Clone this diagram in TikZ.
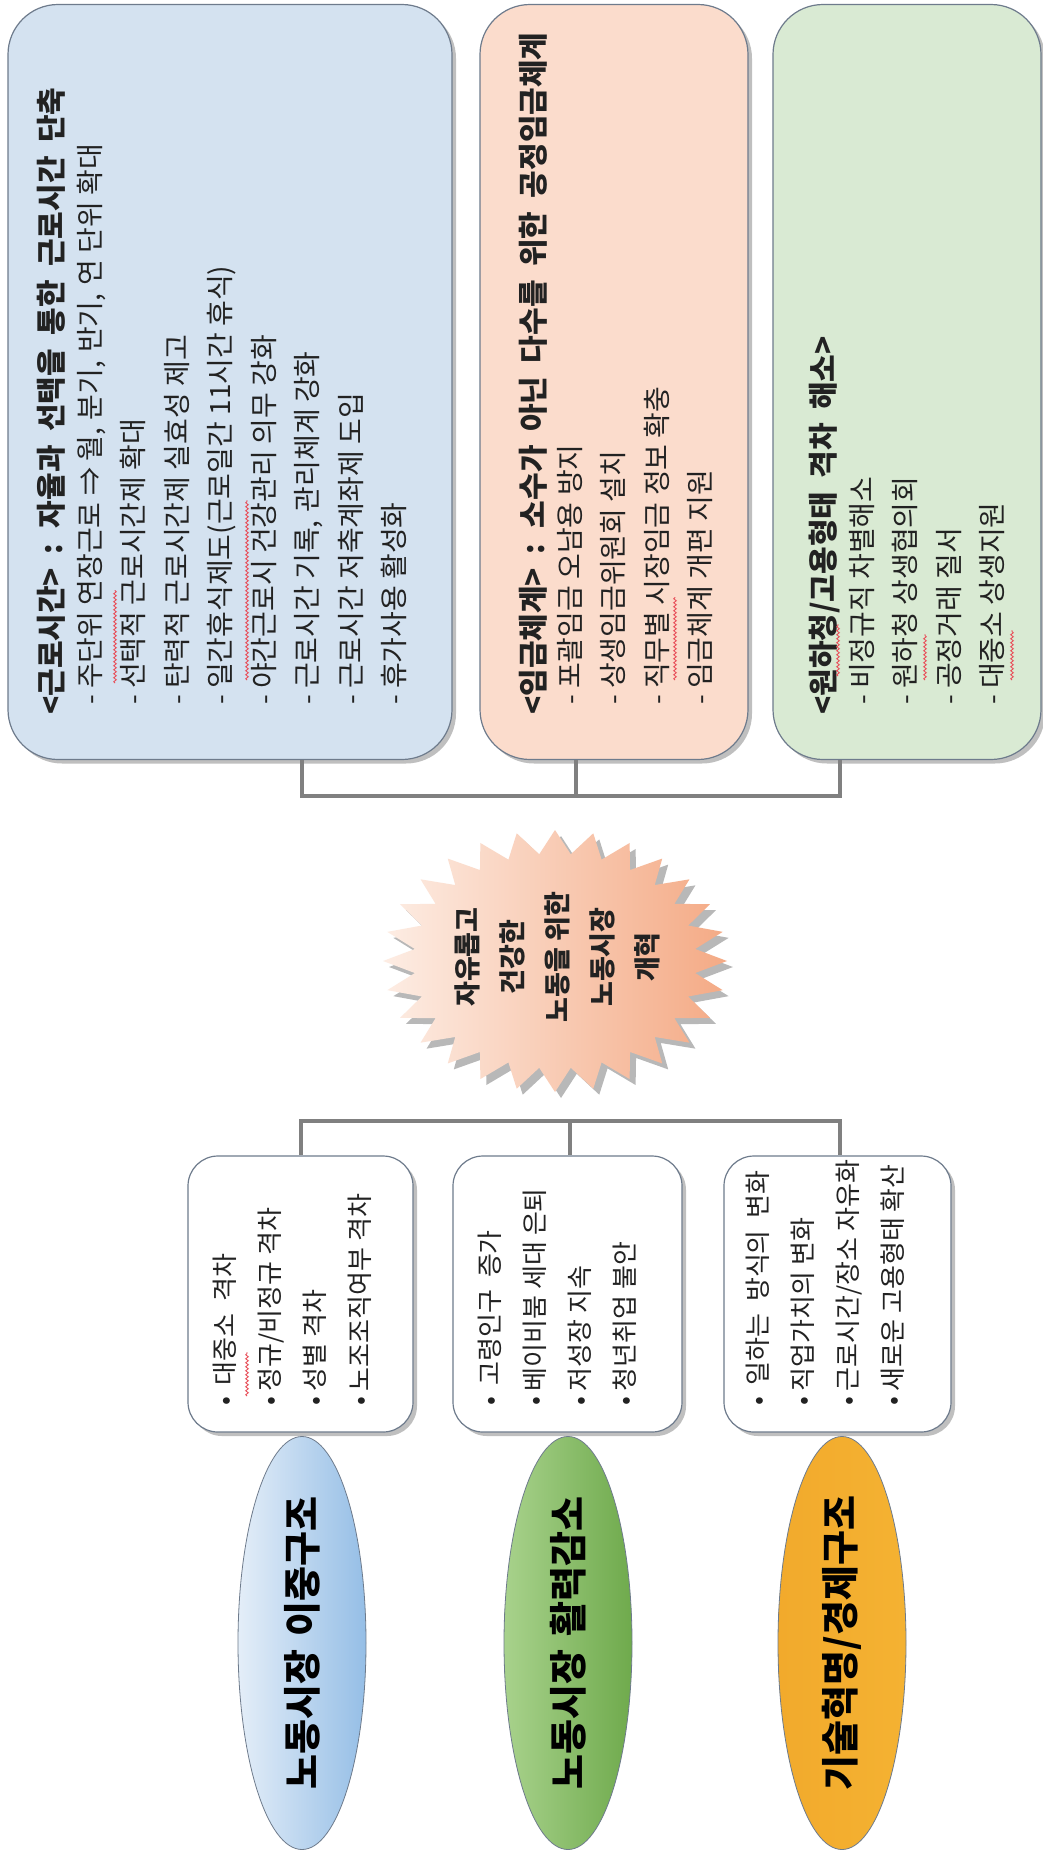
\documentclass[tikz,border=0pt]{standalone}
\usepackage{fontspec}
\setmainfont{Noto Sans CJK KR}
\usetikzlibrary{shapes.geometric,shadows,decorations.pathmorphing}
\definecolor{boxblue}{HTML}{D4E2F0}
\definecolor{boxsalmon}{HTML}{FBDCCC}
\definecolor{boxgreen}{HTML}{D9EAD3}
\definecolor{edgegray}{HTML}{6E7B8C}
\definecolor{conngray}{HTML}{808080}
\definecolor{burstL}{HTML}{FDEDE4}
\definecolor{burstR}{HTML}{F4AA85}
\definecolor{ellBlueL}{HTML}{E4EEF8}
\definecolor{ellBlueR}{HTML}{95BEE6}
\definecolor{ellGreenL}{HTML}{A8D28C}
\definecolor{ellGreenR}{HTML}{6FAA4C}
\definecolor{ellGoldL}{HTML}{F2AA2C}
\definecolor{ellGoldM}{HTML}{FBCB4E}
\definecolor{ellGoldR}{HTML}{F4B232}
\definecolor{txt}{HTML}{222222}
\definecolor{squig}{HTML}{E8505A}
\newcommand\wsp[1]{\spaceskip=#1em\relax}
\newcommand\cm{,\hspace{8pt}}
\begin{document}
\begin{tikzpicture}[x=1pt,y=-1pt,
  topbox/.style={draw=edgegray, line width=1.2pt, rounded corners=50pt,
    drop shadow={shadow xshift=4pt, shadow yshift=-4pt, opacity=0.45, fill=black!55}},
  lowbox/.style={draw=edgegray, line width=1.2pt, rounded corners=30pt, fill=white,
    drop shadow={shadow xshift=4pt, shadow yshift=-4pt, opacity=0.45, fill=black!55}},
  conn/.style={draw=conngray, line width=3.5pt},
  boxtext/.style={rotate=90, anchor=north west, inner sep=0pt, align=left, text=txt,
    font=\fontsize{28}{43.5}\selectfont},
  lowtext/.style={rotate=90, anchor=north west, inner sep=0pt, align=left, text=txt,
    font=\fontsize{26}{45}\selectfont},
  ellbox/.style={ellipse, draw=edgegray, line width=0.8pt, inner sep=0pt,
    minimum width=128pt, minimum height=413pt},
  elltext/.style={rotate=90, inner sep=0pt, text=black,
    font=\bfseries\fontsize{38}{40}\selectfont},
  hdfont/.style={},
  squiggle/.style={draw=squig, line width=0.9pt, decorate,
    decoration={snake, amplitude=1.3pt, segment length=4pt}}
]
\fill[white] (0,0) rectangle (1042,1858);
\useasboundingbox (0,0) rectangle (1042,1858);

% ---- top boxes
\node[topbox, fill=boxblue, minimum width=444pt, minimum height=755pt] (blueBox) at (230,382) {};
\node[topbox, fill=boxsalmon, minimum width=268pt, minimum height=755pt] (salmonBox) at (614,382) {};
\node[topbox, fill=boxgreen, minimum width=268pt, minimum height=755pt] (greenBox) at (907,382) {};

% ---- upper connectors
\coordinate (uA) at (302,796);
\coordinate (uB) at (576,796);
\coordinate (uC) at (840,796);
\draw[conn] (blueBox.south -| uA) -- (uA) -- (uC) -- (greenBox.south -| uC);
\draw[conn] (salmonBox.south -| uB) -- (uB);

% ---- burst
\fill[black, opacity=0.28] plot[samples=57, domain=0:360, variable=\t]
  ({561+172*(0.91+0.09*cos(28*\t))*cos(\t)}, {967+131*(0.91+0.09*cos(28*\t))*sin(\t)}) -- cycle;
\shade[left color=burstL, right color=burstR] plot[samples=57, domain=0:360, variable=\t]
  ({555+172*(0.91+0.09*cos(28*\t))*cos(\t)}, {961+131*(0.91+0.09*cos(28*\t))*sin(\t)}) -- cycle;
\node[rotate=90, align=center, inner sep=0pt, text=txt,
  font=\bfseries\fontsize{27}{45}\selectfont] (burstText) at (557,957)
  {자유롭고\\건강한\\노동을 위한\\노동시장\\개혁};

% ---- lower boxes
\node[lowbox, minimum width=225pt, minimum height=276pt] (box1) at (300.5,1294) {};
\node[lowbox, minimum width=229pt, minimum height=276pt] (box2) at (567.5,1294) {};
\node[lowbox, minimum width=227pt, minimum height=276pt] (box3) at (837.5,1294) {};

% ---- lower connectors
\coordinate (lA) at (301,1121);
\coordinate (lB) at (570,1121);
\coordinate (lC) at (840,1121);
\draw[conn] (box1.north -| lA) -- (lA) -- (lC) -- (box3.north -| lC);
\draw[conn] (lB) -- (box2.north -| lB);

% ---- ellipses
\node[ellbox, left color=ellBlueL, right color=ellBlueR] (e1) at (302,1643) {};
\node[ellbox, left color=ellGreenL, middle color=white, right color=ellGreenR] (e2) at (568,1643) {};
\node[ellbox, left color=ellGoldL, middle color=ellGoldM, right color=ellGoldR] (e3) at (842,1643) {};
\node[elltext] (e1Text) at (e1) {\wsp{0.35}노동시장 이중구조};
\node[elltext] (e2Text) at (e2) {\wsp{0.35}노동시장 활력감소};
\node[elltext] (e3Text) at (e3) {\wsp{0.35}기술혁명/경제구조};

% ---- top texts
\node[boxtext] (blueText) at (37,715) {\wsp{0.6}%
{\bfseries\fontsize{30}{43.5}\selectfont\wsp{0.45}<근로시간> : 자율과 선택을 통한 근로시간 단축}\\[-6pt]
\hspace*{10pt}- 주단위 연장근로 ⇒ 월\cm 분기\cm 반기\cm 연 단위 확대\\
\hspace*{10pt}- 선택적 근로시간제 확대\\
\hspace*{10pt}- 탄력적 근로시간제 실효성 제고\\
\hspace*{10pt}- 일간휴식제도(근로일간 11시간 휴식)\\
\hspace*{10pt}- 야간근로시 건강관리 의무 강화\\
\hspace*{10pt}- 근로시간 기록\cm 관리체계 강화\\
\hspace*{10pt}- 근로시간 저축계좌제 도입\\
\hspace*{10pt}- 휴가사용 활성화};

\node[boxtext] (salmonText) at (519,715) {\wsp{0.6}%
{\bfseries\fontsize{30}{43.5}\selectfont\wsp{0.45}<임금체계> : 소수가 아닌 다수를 위한 공정임금체계}\\[-8pt]
\hspace*{10pt}- 포괄임금 오남용 방지\\
\hspace*{10pt}- 상생임금위원회 설치\\
\hspace*{10pt}- 직무별 시장임금 정보 확충\\
\hspace*{10pt}- 임금체계 개편 지원};

\node[boxtext] (greenText) at (809,715) {\wsp{0.6}%
{\bfseries\fontsize{30}{43.5}\selectfont\wsp{0.45}<원하청/고용형태 격차 해소>}\\[-6pt]
\hspace*{10pt}- 비정규직 차별해소\\
\hspace*{10pt}- 원하청 상생협의회\\
\hspace*{10pt}- 공정거래 질서\\
\hspace*{10pt}- 대중소 상생지원};

% ---- lower texts
\node[lowtext] (box1Text) at (213,1406) {\wsp{0.45}%
• 대중소 격차\\
• 정규/비정규 격차\\
• 성별 격차\\
• 노조조직여부 격차};
\node[lowtext] (box2Text) at (478,1406) {\wsp{0.45}%
• 고령인구 증가\\
• 베이비붐 세대 은퇴\\
• 저성장 지속\\
• 청년취업 불안};
\node[lowtext] (box3Text) at (746,1406) {\wsp{0.45}%
• 일하는 방식의 변화\\
• 직업가치의 변화\\
• 근로시간/장소 자유화\\
• 새로운 고용형태 확산};

% ---- spell-check squiggles
\draw[squiggle] (115,683) -- (115,590);
\draw[squiggle] (247,680) -- (247,500);
\draw[squiggle] (675,680) -- (675,597);
\draw[squiggle] (838,676) -- (838,624);
\draw[squiggle] (925,680) -- (925,634);
\draw[squiggle] (1012,680) -- (1012,630);
\draw[squiggle] (247,1396) -- (247,1352);
\end{tikzpicture}
\end{document}
